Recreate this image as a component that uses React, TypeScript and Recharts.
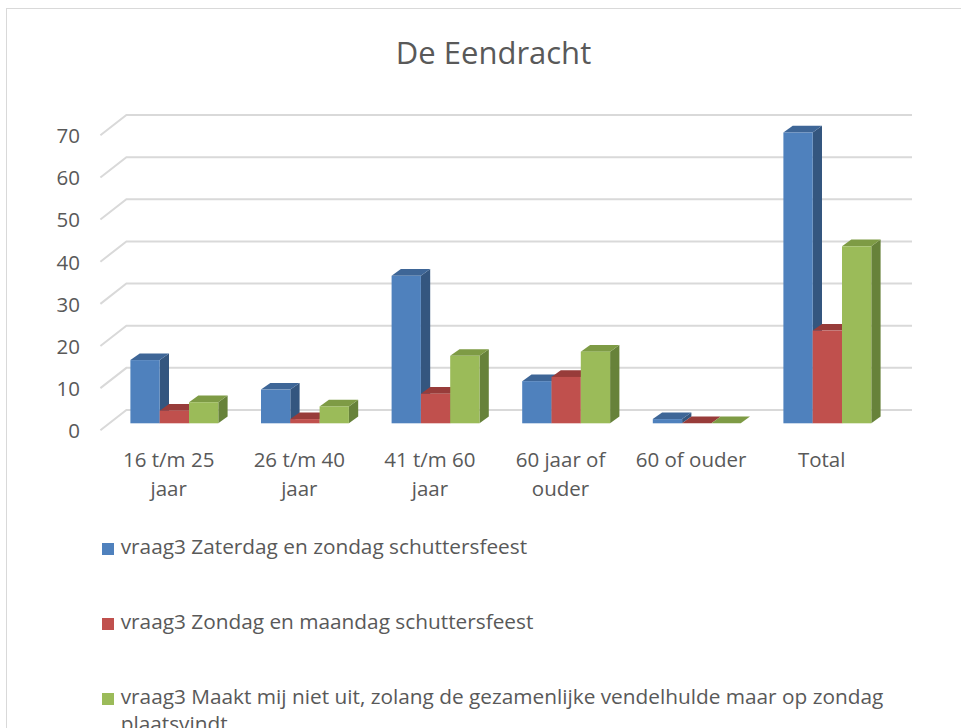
// 3D-achtig kolomdiagram "De Eendracht" (recharts), Excel-stijl.

import { BarChart, Bar, XAxis, YAxis, CartesianGrid } from "recharts"

const categories = ["16 t/m 25 jaar", "26 t/m 40 jaar", "41 t/m 60 jaar", "60 jaar of ouder", "60 of ouder", "Total"]
const zaterdagZondag = [15, 8, 35, 10, 1, 69]
const zondagMaandag = [3, 1, 7, 11, 0, 22]
const maaktNietUit = [5, 4, 16, 17, 0, 42]
const seriesNames = [
  "vraag3 Zaterdag en zondag schuttersfeest",
  "vraag3 Zondag en maandag schuttersfeest",
  "vraag3 Maakt mij niet uit, zolang de gezamenlijke vendelhulde maar op zondag plaatsvindt",
]
const yTicks = [0, 10, 20, 30, 40, 50, 60, 70]

const SERIES = [
  { key: "zz", name: seriesNames[0], front: "#4F81BD", top: "#3E6697", side: "#34567F" },
  { key: "zm", name: seriesNames[1], front: "#C0504D", top: "#983C3A", side: "#863331" },
  { key: "mn", name: seriesNames[2], front: "#9BBB59", top: "#7E9B45", side: "#67823A" },
]

const data = categories.map((name, i) => ({
  name,
  zz: zaterdagZondag[i],
  zm: zondagMaandag[i],
  mn: maaktNietUit[i],
}))

const TEXT = "#595959"
const FONT = "'Open Sans', sans-serif"
const DX = 9.3
const DY = 6.7

function wrapLabel(label: string, max = 11) {
  const lines: string[] = []
  let cur = ""
  for (const w of label.split(" ")) {
    const next = cur ? cur + " " + w : w
    if (next.length > max && cur) {
      lines.push(cur)
      cur = w
    } else cur = next
  }
  if (cur) lines.push(cur)
  return lines
}

function Bar3D(props: any) {
  const { x, y, width: w, height: h, colors } = props
  if (x == null || y == null) return null
  return (
    <g>
      <polygon
        points={`${x + w},${y} ${x + w + DX},${y - DY} ${x + w + DX},${y + h - DY} ${x + w},${y + h}`}
        fill={colors.side}
      />
      <polygon
        points={`${x},${y} ${x + DX},${y - DY} ${x + w + DX},${y - DY} ${x + w},${y}`}
        fill={colors.top}
      />
      {h > 0 && <rect x={x} y={y} width={w} height={h} fill={colors.front} />}
    </g>
  )
}

// achterwand-rasterlijn met schuine zijwand
function GridLine3D(props: any) {
  const { x1, x2, y1 } = props
  return (
    <path
      d={`M${x1 - 9},${y1 + 7} L${x1 + 17},${y1 - 13.3} L${x2 + 19},${y1 - 13.3}`}
      fill="none"
      stroke="#D9D9D9"
      strokeWidth={2}
    />
  )
}

function XTick({ x, y, payload }: any) {
  const lines = wrapLabel(String(payload.value))
  return (
    <text x={x - 6} y={y + 44} textAnchor="middle" fill={TEXT} fontSize={20.5} fontFamily={FONT}>
      {lines.map((l, i) => (
        <tspan key={i} x={x - 6} dy={i === 0 ? 0 : 29}>
          {l}
        </tspan>
      ))}
    </text>
  )
}

function YTick({ y, payload }: any) {
  return (
    <text x={80} y={y + 14.8} textAnchor="end" fill={TEXT} fontSize={20.5} fontFamily={FONT}>
      {payload.value}
    </text>
  )
}

export default function App() {
  return (
    <div
      style={{
        position: "absolute",
        left: 0,
        top: 0,
        width: 961,
        height: 728,
        overflow: "hidden",
        background: "#fff",
        fontFamily: FONT,
      }}
    >
      <div
        style={{
          position: "absolute",
          left: 6,
          top: 8,
          width: 1000,
          height: 800,
          border: "1.5px solid #D9D9D9",
        }}
      />
      <div
        style={{
          position: "absolute",
          left: 0,
          top: 36.5,
          width: 987,
          textAlign: "center",
          fontSize: 31,
          lineHeight: "31px",
          color: TEXT,
        }}
      >
        De Eendracht
      </div>
      <div style={{ position: "absolute", left: 0, top: 0 }}>
        <BarChart
          width={961}
          height={728}
          data={data}
          margin={{ top: 128.3, right: 68, bottom: 224.7, left: 0 }}
          barSize={29.3}
          barGap={0}
        >
          <CartesianGrid vertical={false} horizontal={(p: any) => <GridLine3D key={p.key ?? p.index} {...p} />} />
          <XAxis
            dataKey="name"
            interval={0}
            axisLine={false}
            tickLine={false}
            tickSize={0}
            tickMargin={0}
            height={80}
            tick={<XTick />}
          />
          <YAxis
            domain={[0, 70]}
            ticks={yTicks}
            axisLine={false}
            tickLine={false}
            width={109.4}
            tick={<YTick />}
          />
          {SERIES.map((s) => (
            <Bar
              key={s.key}
              dataKey={s.key}
              name={s.name}
              fill={s.front}
              isAnimationActive={false}
              shape={(p: any) => <Bar3D {...p} colors={s} />}
            />
          ))}
        </BarChart>
      </div>
      {/* legenda */}
      {SERIES.map((s, i) => (
        <div
          key={s.key}
          style={{
            position: "absolute",
            left: 101.7,
            top: 533 + i * 75,
            width: 830,
            display: "flex",
            alignItems: "flex-start",
            fontSize: 20.8,
            lineHeight: "27px",
            color: TEXT,
          }}
        >
          <span
            style={{
              width: 12,
              height: 12,
              marginTop: 10,
              marginRight: 7,
              background: s.front,
              flex: "0 0 auto",
            }}
          />
          <span>{s.name}</span>
        </div>
      ))}
    </div>
  )
}
